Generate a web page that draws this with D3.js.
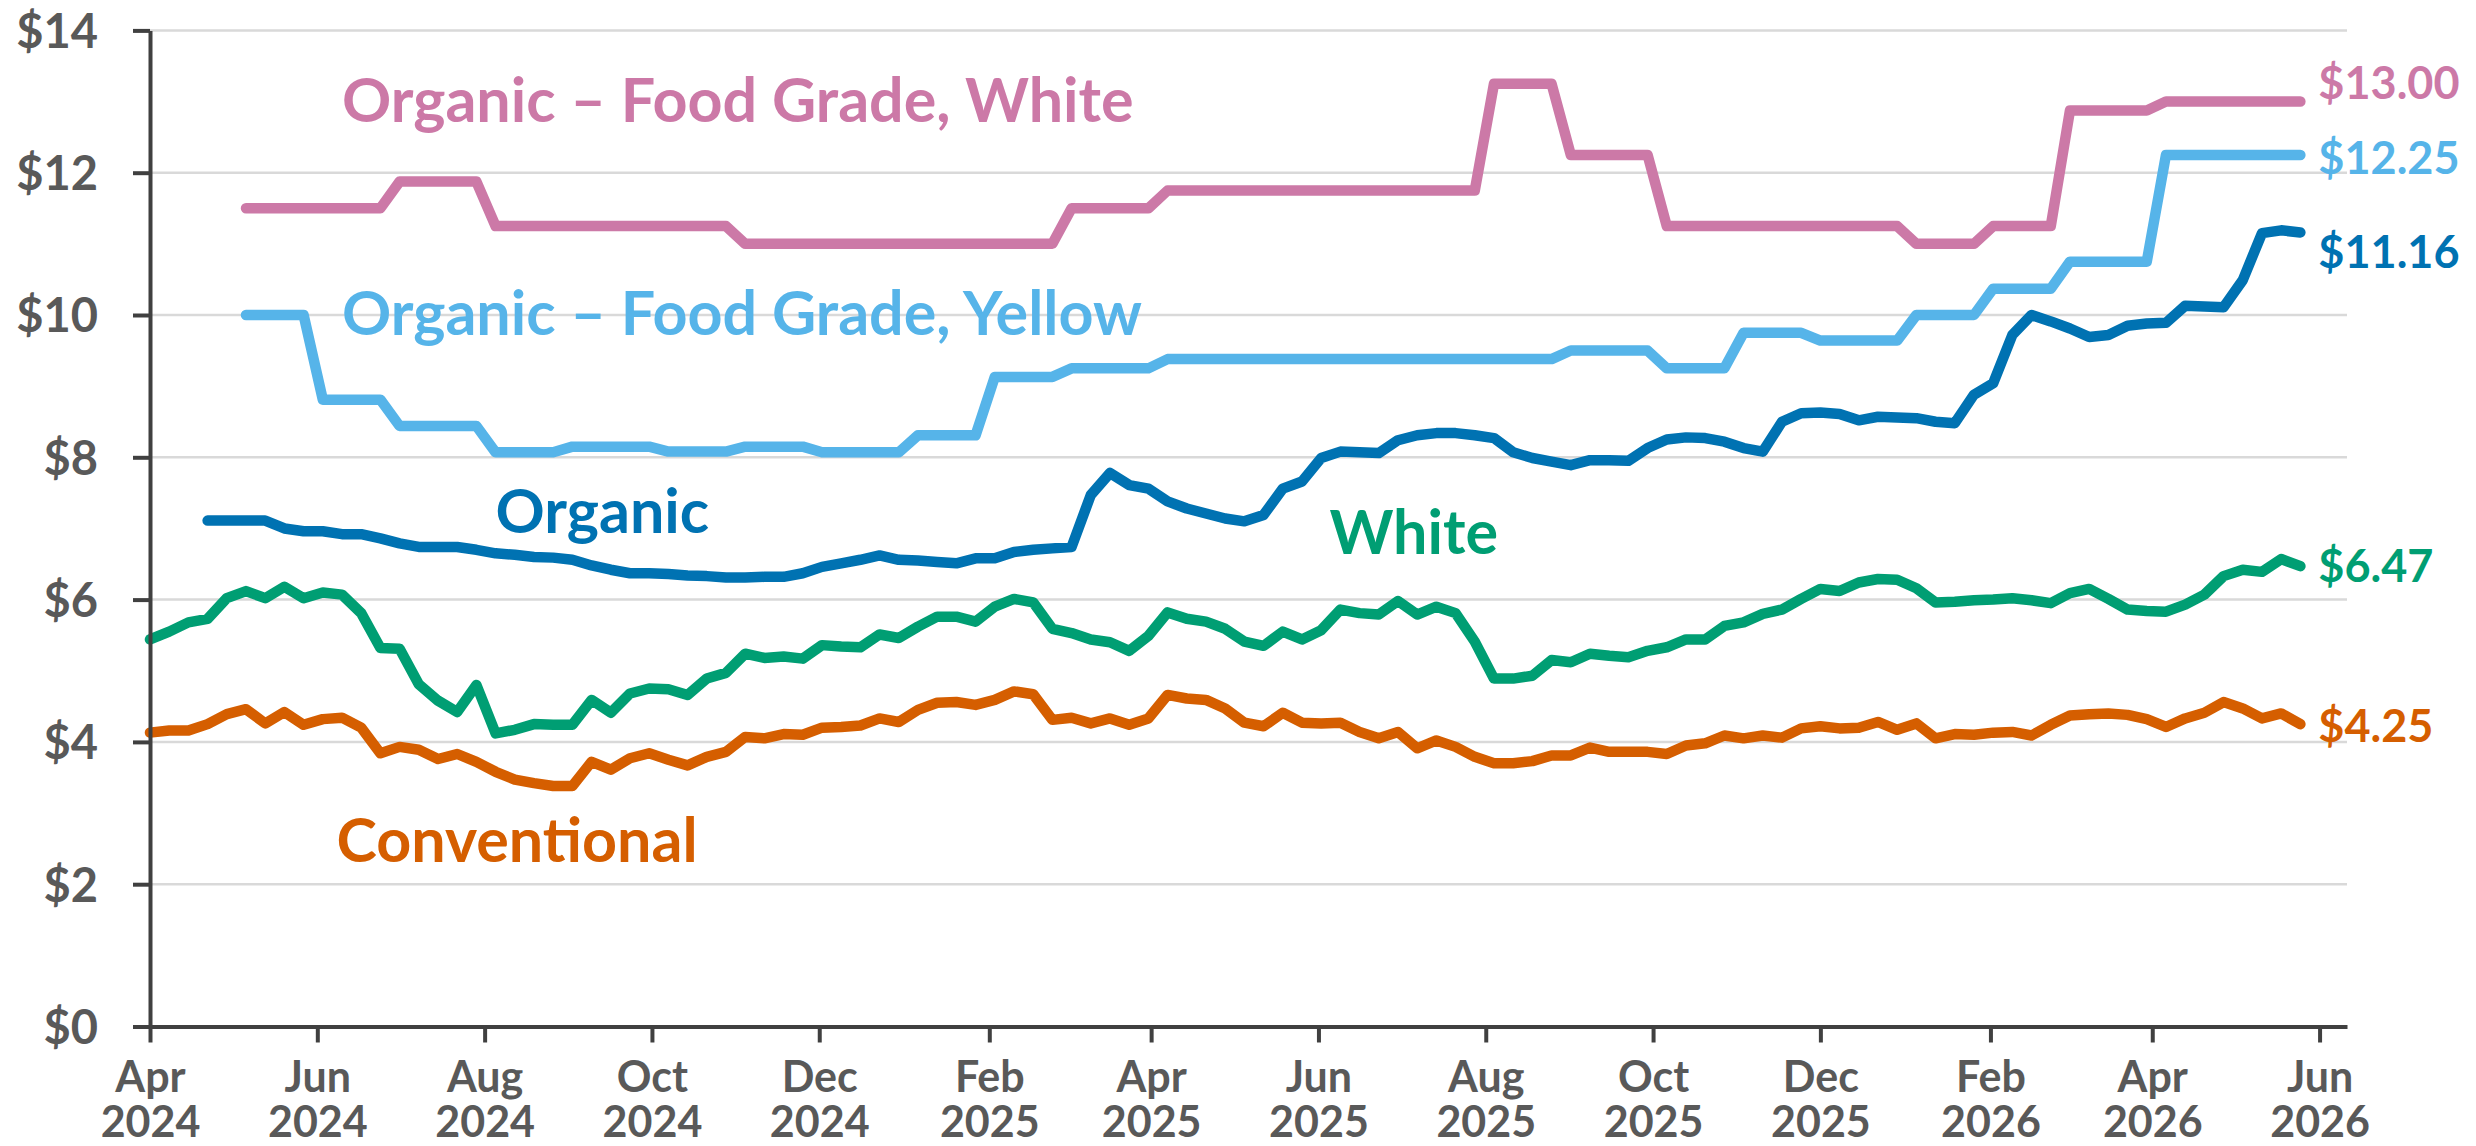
<!doctype html>
<html lang="en">
<head>
<meta charset="utf-8">
<title>Prices</title>
<script src="https://d3js.org/d3.v7.min.js"></script>
<style>
  body { margin: 0; background: #fff; }
  svg text { font-family: Lato, "Noto Sans", sans-serif; font-weight: 700; }
</style>
</head>
<body>
<svg id="chart" width="2476" height="1146"></svg>
<script>
// weekly observations, Mondays 2024-04-01 .. 2026-05-25
const weeks = d3.timeMonday.range(new Date(2024, 3, 1), new Date(2026, 4, 26));

const yTicks = [0, 2, 4, 6, 8, 10, 12, 14];
const xTicks = [
  new Date(2024, 3, 1), new Date(2024, 5, 1), new Date(2024, 7, 1), new Date(2024, 9, 1),
  new Date(2024, 11, 1), new Date(2025, 1, 1), new Date(2025, 3, 1), new Date(2025, 5, 1),
  new Date(2025, 7, 1), new Date(2025, 9, 1), new Date(2025, 11, 1), new Date(2026, 1, 1),
  new Date(2026, 3, 1), new Date(2026, 5, 1)
];

// Conventional, from week 0
const conventional = [
  4.13, 4.16, 4.16, 4.25, 4.39, 4.46, 4.26, 4.42, 4.24, 4.32,
  4.34, 4.20, 3.84, 3.93, 3.89, 3.76, 3.83, 3.72, 3.58, 3.47,
  3.42, 3.38, 3.38, 3.72, 3.61, 3.77, 3.84, 3.75, 3.67, 3.79,
  3.86, 4.07, 4.05, 4.11, 4.10, 4.20, 4.21, 4.23, 4.33, 4.28,
  4.45, 4.55, 4.56, 4.52, 4.59, 4.71, 4.67, 4.31, 4.34, 4.26,
  4.33, 4.24, 4.33, 4.66, 4.61, 4.59, 4.47, 4.27, 4.22, 4.41,
  4.27, 4.26, 4.27, 4.14, 4.05, 4.14, 3.91, 4.02, 3.93, 3.79,
  3.70, 3.70, 3.73, 3.81, 3.81, 3.92, 3.86, 3.86, 3.86, 3.83,
  3.95, 3.98, 4.09, 4.05, 4.09, 4.06, 4.19, 4.22, 4.19, 4.20,
  4.28, 4.17, 4.26, 4.05, 4.11, 4.10, 4.13, 4.14, 4.09, 4.24,
  4.37, 4.39, 4.40, 4.38, 4.32, 4.21, 4.33, 4.41, 4.56, 4.47,
  4.33, 4.40, 4.25
];

// White, from week 0
const white = [
  5.44, 5.55, 5.68, 5.73, 6.02, 6.12, 6.02, 6.18, 6.02, 6.10,
  6.07, 5.81, 5.32, 5.31, 4.81, 4.58, 4.42, 4.80, 4.12, 4.17,
  4.25, 4.24, 4.24, 4.59, 4.41, 4.68, 4.75, 4.74, 4.66, 4.89,
  4.97, 5.24, 5.18, 5.20, 5.17, 5.36, 5.34, 5.33, 5.51, 5.46,
  5.62, 5.76, 5.76, 5.69, 5.90, 6.01, 5.96, 5.59, 5.53, 5.44,
  5.40, 5.28, 5.49, 5.82, 5.73, 5.69, 5.59, 5.41, 5.35, 5.55,
  5.44, 5.57, 5.86, 5.81, 5.79, 5.98, 5.79, 5.90, 5.81, 5.41,
  4.89, 4.89, 4.93, 5.15, 5.12, 5.24, 5.21, 5.19, 5.28, 5.33,
  5.44, 5.44, 5.63, 5.68, 5.80, 5.86, 6.01, 6.15, 6.12, 6.24,
  6.29, 6.28, 6.16, 5.96, 5.97, 5.99, 6.00, 6.02, 5.99, 5.95,
  6.09, 6.15, 6.01, 5.86, 5.84, 5.83, 5.93, 6.07, 6.33, 6.42,
  6.39, 6.57, 6.47
];

// Organic, from week 3
const organic = [
  7.11, 7.11, 7.11, 7.11, 7.00, 6.96, 6.96,
  6.92, 6.92, 6.86, 6.79, 6.74, 6.74, 6.74, 6.70, 6.65, 6.63,
  6.60, 6.59, 6.56, 6.48, 6.42, 6.37, 6.37, 6.36, 6.34, 6.33,
  6.31, 6.31, 6.32, 6.32, 6.37, 6.46, 6.51, 6.56, 6.62, 6.56,
  6.55, 6.53, 6.51, 6.58, 6.58, 6.67, 6.70, 6.72, 6.74, 7.47,
  7.78, 7.61, 7.56, 7.38, 7.28, 7.21, 7.14, 7.10, 7.19, 7.56,
  7.66, 7.99, 8.08, 8.07, 8.06, 8.24, 8.31, 8.34, 8.34, 8.31,
  8.27, 8.07, 7.99, 7.94, 7.89, 7.96, 7.96, 7.95, 8.13, 8.25,
  8.28, 8.27, 8.22, 8.13, 8.08, 8.50, 8.62, 8.63, 8.61, 8.52,
  8.57, 8.56, 8.55, 8.50, 8.48, 8.88, 9.04, 9.72, 10.00, 9.91,
  9.81, 9.69, 9.72, 9.85, 9.88, 9.89, 10.13, 10.12, 10.11, 10.49,
  11.15, 11.19, 11.16
];

// Organic - Food Grade, Yellow, from week 5
const fgYellow = [
  10.00, 10.00, 10.00, 10.00, 8.81, 8.81, 8.81, 8.81,
  8.44, 8.44, 8.44, 8.44, 8.44, 8.07, 8.07, 8.07, 8.07,
  8.15, 8.15, 8.15, 8.15, 8.15, 8.08, 8.08, 8.08, 8.08,
  8.15, 8.15, 8.15, 8.15, 8.07, 8.07, 8.07, 8.07, 8.07,
  8.31, 8.31, 8.31, 8.31, 9.13, 9.13, 9.13, 9.13,
  9.25, 9.25, 9.25, 9.25, 9.25,
  9.38, 9.38, 9.38, 9.38, 9.38, 9.38, 9.38, 9.38, 9.38, 9.38,
  9.38, 9.38, 9.38, 9.38, 9.38, 9.38, 9.38, 9.38, 9.38, 9.38, 9.38,
  9.50, 9.50, 9.50, 9.50, 9.50, 9.25, 9.25, 9.25, 9.25,
  9.75, 9.75, 9.75, 9.75, 9.64, 9.64, 9.64, 9.64, 9.64,
  10.00, 10.00, 10.00, 10.00, 10.37, 10.37, 10.37, 10.37,
  10.75, 10.75, 10.75, 10.75, 10.75,
  12.25, 12.25, 12.25, 12.25, 12.25, 12.25, 12.25, 12.25
];

// Organic - Food Grade, White, from week 5
const fgWhite = [
  11.50, 11.50, 11.50, 11.50, 11.50, 11.50, 11.50, 11.50,
  11.875, 11.875, 11.875, 11.875, 11.875,
  11.25, 11.25, 11.25, 11.25, 11.25, 11.25, 11.25, 11.25, 11.25, 11.25, 11.25, 11.25, 11.25,
  11.00, 11.00, 11.00, 11.00, 11.00, 11.00, 11.00, 11.00, 11.00, 11.00,
  11.00, 11.00, 11.00, 11.00, 11.00, 11.00, 11.00,
  11.50, 11.50, 11.50, 11.50, 11.50,
  11.75, 11.75, 11.75, 11.75, 11.75, 11.75, 11.75, 11.75, 11.75, 11.75,
  11.75, 11.75, 11.75, 11.75, 11.75, 11.75, 11.75,
  13.25, 13.25, 13.25, 13.25,
  12.25, 12.25, 12.25, 12.25, 12.25,
  11.25, 11.25, 11.25, 11.25, 11.25, 11.25, 11.25, 11.25, 11.25, 11.25, 11.25, 11.25, 11.25,
  11.00, 11.00, 11.00, 11.00,
  11.25, 11.25, 11.25, 11.25,
  12.875, 12.875, 12.875, 12.875, 12.875,
  13.00, 13.00, 13.00, 13.00, 13.00, 13.00, 13.00, 13.00
];

const series = [
  {name: "Organic \u2013 Food Grade, White",  values: fgWhite,      start: 5, color: "#CC79A7", lx: new Date(2024, 5, 10), ly: 12.71, endDy: -19},
  {name: "Organic \u2013 Food Grade, Yellow", values: fgYellow,     start: 5, color: "#56B4E9", lx: new Date(2024, 5, 10), ly: 9.72,  endDy: 3},
  {name: "Organic",                           values: organic,      start: 3, color: "#0072B2", lx: new Date(2024, 7, 5),  ly: 6.93,  endDy: 19},
  {name: "White",                             values: white,        start: 0, color: "#009E73", lx: new Date(2025, 5, 5),  ly: 6.64,  endDy: 0},
  {name: "Conventional",                      values: conventional, start: 0, color: "#D55E00", lx: new Date(2024, 5, 8),  ly: 2.31,  endDy: 2}
];

const svg = d3.select("#chart");
const plotLeft = 150, plotRight = 2347, plotTop = 30.4, plotBottom = 1026.5;

const x = d3.scaleTime()
  .domain([new Date(2024, 3, 1), new Date(2026, 5, 11)])
  .range([plotLeft, plotRight]);
const y = d3.scaleLinear().domain([0, 14]).range([plotBottom, plotTop]);

// gridlines
svg.append("g")
  .selectAll("line")
  .data(yTicks.filter(d => d > 0))
  .join("line")
  .attr("x1", plotLeft).attr("x2", plotRight)
  .attr("y1", d => y(d)).attr("y2", d => y(d))
  .attr("stroke", "#d9d9d9")
  .attr("stroke-width", 2.5);

const line = d3.line()
  .x(d => x(d.date))
  .y(d => y(d.value));

series.forEach(s => {
  s.points = s.values.map((v, i) => ({date: weeks[s.start + i], value: v}));
});

svg.append("g")
  .selectAll("path")
  .data(series)
  .join("path")
  .attr("d", s => line(s.points))
  .attr("fill", "none")
  .attr("stroke", s => s.color)
  .attr("stroke-width", 10.5)
  .attr("stroke-linejoin", "round")
  .attr("stroke-linecap", "round");

// axes
const yAxis = svg.append("g")
  .attr("transform", `translate(${plotLeft},0)`)
  .call(d3.axisLeft(y).tickValues(yTicks).tickSize(17).tickSizeOuter(0).tickPadding(35).tickFormat(d => "$" + d));

const xAxis = svg.append("g")
  .attr("transform", `translate(0,${plotBottom})`)
  .call(d3.axisBottom(x).tickValues(xTicks).tickSize(16).tickSizeOuter(0).tickFormat(""));

[yAxis, xAxis].forEach(g => {
  g.select(".domain").attr("stroke", "#404040").attr("stroke-width", 4);
  g.selectAll(".tick line").attr("stroke", "#404040").attr("stroke-width", 4);
});
yAxis.selectAll(".tick text")
  .attr("fill", "#595959")
  .style("font-size", "47px")
  .attr("dy", "0.36em");

// two-line month / year labels
xAxis.selectAll(".tick").each(function(d) {
  const t = d3.select(this).select("text")
    .attr("fill", "#595959")
    .style("font-size", "43px")
    .attr("y", 0).attr("dy", null);
  t.append("tspan").attr("x", 0).attr("y", 65).text(d3.timeFormat("%b")(d));
  t.append("tspan").attr("x", 0).attr("y", 110).text(d3.timeFormat("%Y")(d));
});

// series names
svg.append("g")
  .selectAll("text")
  .data(series)
  .join("text")
  .attr("x", s => x(s.lx))
  .attr("y", s => y(s.ly))
  .attr("fill", s => s.color)
  .style("font-size", "61px")
  .text(s => s.name);

// last values
svg.append("g")
  .selectAll("text")
  .data(series)
  .join("text")
  .attr("x", s => x(s.points[s.points.length - 1].date) + 18)
  .attr("y", s => y(s.points[s.points.length - 1].value) + s.endDy)
  .attr("dy", "0.36em")
  .attr("fill", s => s.color)
  .style("font-size", "45px")
  .text(s => "$" + s.points[s.points.length - 1].value.toFixed(2));
</script>
</body>
</html>
